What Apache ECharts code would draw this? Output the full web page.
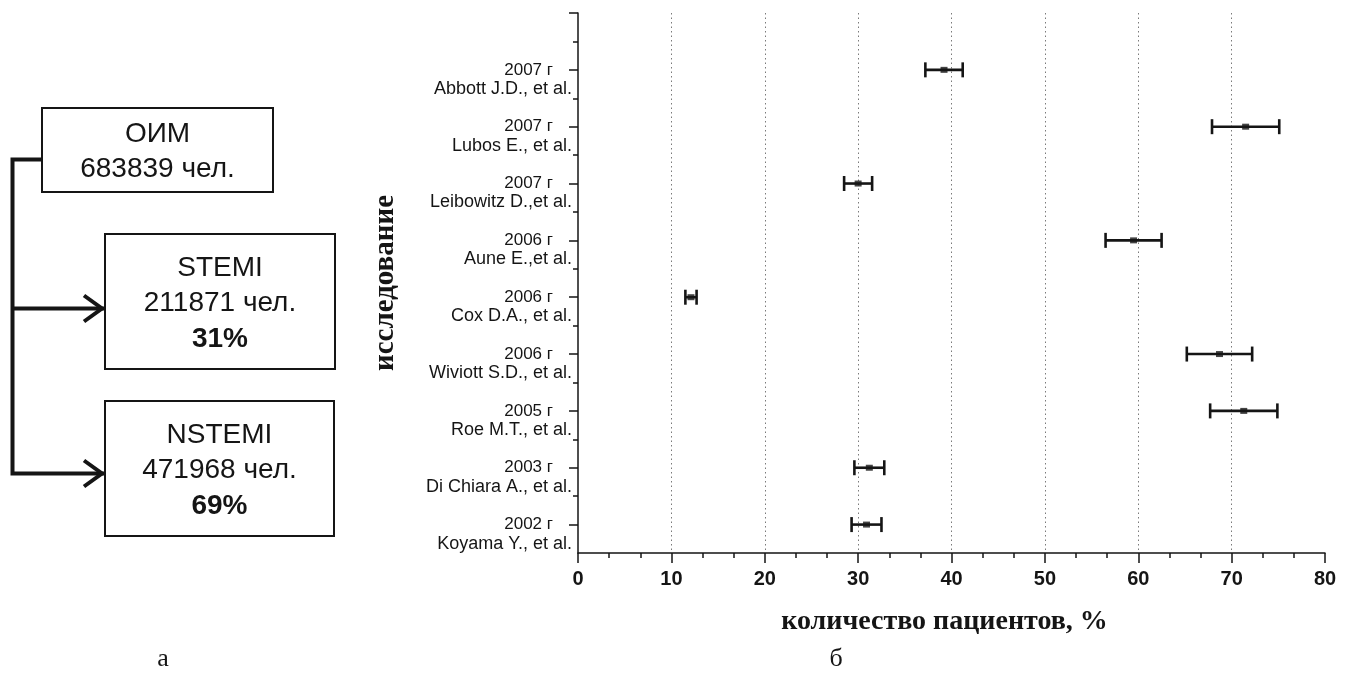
<!DOCTYPE html>
<html>
<head>
<meta charset="utf-8">
<script src="https://cdn.jsdelivr.net/npm/echarts@6/dist/echarts.min.js"></script>
<style>
  html, body { margin: 0; padding: 0; background: #fff; }
  #chart { width: 1354px; height: 693px; }
</style>
</head>
<body>
<div id="chart"></div>
<script>
// Studies, listed from top to bottom
const years = ['2007 г', '2007 г', '2007 г', '2006 г', '2006 г', '2006 г', '2005 г', '2003 г', '2002 г'];
const authors = ['Abbott J.D., et al.', 'Lubos E., et al.', 'Leibowitz D.,et al.', 'Aune E.,et al.',
  'Cox D.A., et al.', 'Wiviott S.D., et al.', 'Roe M.T., et al.', 'Di Chiara A., et al.', 'Koyama Y., et al.'];
// share of patients, % and half-width of the interval
const shares = [39.2, 71.5, 30.0, 59.5, 12.1, 68.7, 71.3, 31.2, 30.9];
const errors = [2.0, 3.6, 1.5, 3.0, 0.6, 3.5, 3.6, 1.6, 1.6];

// Flow diagram texts
const flowTitles = ['ОИМ', 'STEMI', 'NSTEMI'];
const flowCounts = ['683839 чел.', '211871 чел.', '471968 чел.'];
const flowShares = ['', '31%', '69%'];
const panelLetters = ['а', 'б'];

const xName = 'количество пациентов, %';
const yName = 'исследование';

const n = years.length;
// row position on the vertical axis: bottom study = 1, top study = n
const rowPos = years.map((_, i) => n - i);
const majorRows = rowPos.concat([n + 1]);
const minorRows = rowPos.map(p => p + 0.5);

const barData = shares.map((v, i) => [v - errors[i], v + errors[i], rowPos[i]]);
const pointData = shares.map((v, i) => [v, rowPos[i]]);

const ink = '#151515';
const sans = '"Liberation Sans", Arial, sans-serif';
const serif = '"Liberation Serif", "Times New Roman", serif';

// --- flow diagram (left panel) ---
const boxes = [
  { x: 42, y: 108, w: 231, h: 84 },
  { x: 105, y: 234, w: 230, h: 135 },
  { x: 105, y: 401, w: 229, h: 135 }
];
const graphics = [];
boxes.forEach((b, k) => {
  graphics.push({
    type: 'rect', shape: { x: b.x, y: b.y, width: b.w, height: b.h },
    style: { fill: '#fff', stroke: ink, lineWidth: 2 }
  });
  const cx = b.x + b.w / 2;
  const lines = flowShares[k] ? [flowTitles[k], flowCounts[k], flowShares[k]] : [flowTitles[k], flowCounts[k]];
  const step = 35.5;
  const y0 = b.y + b.h / 2 - step * (lines.length - 1) / 2 + 2;
  lines.forEach((t, j) => {
    graphics.push({
      type: 'text', x: cx, y: y0 + j * step,
      style: {
        text: t, fill: ink, align: 'center', verticalAlign: 'middle',
        font: (j === 2 ? 'bold ' : '') + '28px ' + sans
      }
    });
  });
});
// connector lines and arrows
graphics.push({
  type: 'polyline',
  shape: { points: [[42, 159.5], [12.5, 159.5], [12.5, 473.5], [104, 473.5]] },
  style: { fill: null, stroke: ink, lineWidth: 4, lineJoin: 'miter' }
});
graphics.push({
  type: 'line', shape: { x1: 12.5, y1: 308.5, x2: 104, y2: 308.5 },
  style: { stroke: ink, lineWidth: 4 }
});
[308.5, 473.5].forEach(yy => {
  graphics.push({
    type: 'polyline',
    shape: { points: [[84, yy - 13], [102, yy], [84, yy + 13]] },
    style: { fill: null, stroke: ink, lineWidth: 4, lineJoin: 'miter' }
  });
});
// panel letters
[[163, 659], [836, 659]].forEach((p, k) => {
  graphics.push({
    type: 'text', x: p[0], y: p[1],
    style: { text: panelLetters[k], fill: ink, align: 'center', verticalAlign: 'middle', font: '26px ' + serif }
  });
});

const chart = echarts.init(document.getElementById('chart'), null, { renderer: 'canvas' });

chart.setOption({
  animation: false,
  backgroundColor: '#fff',
  graphic: graphics,
  grid: { left: 578, right: 29, top: 13, bottom: 140, containLabel: false },
  xAxis: {
    type: 'value', min: 0, max: 80, interval: 10,
    axisLine: { show: true, lineStyle: { color: ink, width: 1.5 } },
    axisTick: { show: true, length: 10, lineStyle: { color: ink, width: 1.5 } },
    minorTick: { show: true, splitNumber: 3, length: 5, lineStyle: { color: ink, width: 1.5 } },
    axisLabel: { color: ink, fontFamily: sans, fontWeight: 'bold', fontSize: 20, margin: 16 },
    splitLine: {
      show: true, showMinLine: false, showMaxLine: false,
      lineStyle: { color: '#7a7a7a', width: 1, type: [1.5, 3] }
    },
    name: xName, nameLocation: 'middle', nameGap: 55,
    nameTextStyle: { color: ink, fontFamily: serif, fontWeight: 'bold', fontSize: 28, padding: [0, 14, 0, 0] }
  },
  yAxis: [
    {
      type: 'value', min: 0.5, max: n + 1, position: 'left',
      axisLine: { show: true, onZero: false, lineStyle: { color: ink, width: 1.5 } },
      axisTick: { show: true, length: 9, customValues: majorRows, lineStyle: { color: ink, width: 1.5 } },
      axisLabel: {
        show: true, margin: 6, align: 'right', customValues: rowPos,
        showMinLabel: true, showMaxLabel: true, hideOverlap: false,
        formatter: v => {
          const i = n - Math.round(v);
          return '{e| }\n{y|' + years[i] + '}\n{a|' + authors[i] + '}';
        },
        rich: {
          e: { fontSize: 17, lineHeight: 19, fontFamily: sans },
          y: { fontSize: 17, lineHeight: 19, fontFamily: sans, color: ink, padding: [0, 19, 0, 0], align: 'right' },
          a: { fontSize: 18, lineHeight: 19, fontFamily: sans, color: ink, align: 'right' }
        }
      },
      splitLine: { show: false },
      name: yName, nameLocation: 'middle', nameRotate: 90, nameGap: 178,
      nameTextStyle: { color: ink, fontFamily: serif, fontWeight: 'bold', fontSize: 29 }
    },
    {
      type: 'value', min: 0.5, max: n + 1, position: 'left',
      axisLine: { show: false },
      axisTick: { show: true, length: 5, customValues: minorRows, lineStyle: { color: ink, width: 1.5 } },
      axisLabel: { show: false },
      splitLine: { show: false }
    }
  ],
  series: [
    {
      type: 'custom',
      xAxisIndex: 0, yAxisIndex: 0,
      data: barData,
      encode: { x: [0, 1], y: 2 },
      renderItem: (params, api) => {
        const lo = api.coord([api.value(0), api.value(2)]);
        const hi = api.coord([api.value(1), api.value(2)]);
        const h = 7.5;
        const st = { stroke: ink, lineWidth: 2.6 };
        return {
          type: 'group',
          children: [
            { type: 'line', shape: { x1: lo[0], y1: lo[1], x2: hi[0], y2: hi[1] }, style: st },
            { type: 'line', shape: { x1: lo[0], y1: lo[1] - h, x2: lo[0], y2: lo[1] + h }, style: st },
            { type: 'line', shape: { x1: hi[0], y1: hi[1] - h, x2: hi[0], y2: hi[1] + h }, style: st }
          ]
        };
      },
      z: 3
    },
    {
      type: 'scatter',
      xAxisIndex: 0, yAxisIndex: 0,
      data: pointData,
      symbol: 'rect', symbolSize: [7, 6],
      itemStyle: { color: ink },
      z: 4
    }
  ]
});
</script>
</body>
</html>
